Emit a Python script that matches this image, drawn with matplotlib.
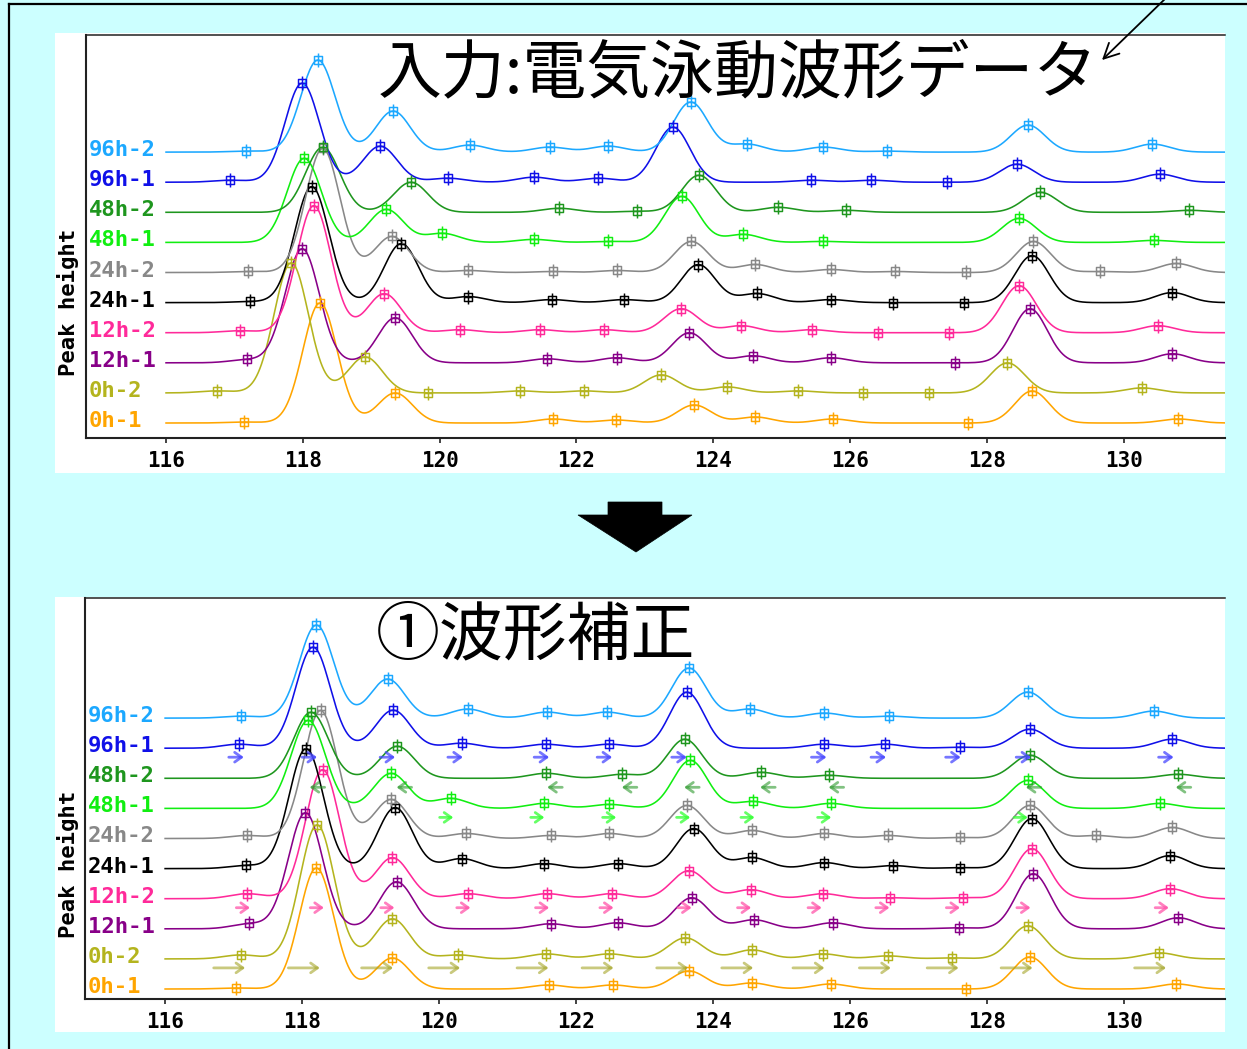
import numpy as np
import matplotlib
matplotlib.use("Agg")
import matplotlib.pyplot as plt
from matplotlib.path import Path
from matplotlib.patches import Rectangle, Polygon, FancyArrowPatch
from matplotlib.lines import Line2D

# ---------------- sample lanes (bottom -> top) ----------------
samples = ["0h-1", "0h-2", "12h-1", "12h-2", "24h-1", "24h-2", "48h-1", "48h-2", "96h-1", "96h-2"]
colors = ["#FFA500", "#B4B41E", "#880088", "#FF2A9A", "#000000",
          "#888888", "#11EE11", "#1E961E", "#1010E8", "#1CA8FF"]

x_ticks = [116, 118, 120, 122, 124, 126, 128, 130]

# ---------------- input waveforms: peak positions / heights ----------------
raw_0h1_x = [117.14, 118.25, 119.35, 121.66, 122.58, 123.72, 124.61, 125.75, 127.73, 128.66, 130.80]
raw_0h1_h = [1, 120, 30, 4, 3, 18, 6, 4, 0, 32, 4]
raw_0h2_x = [116.75, 117.83, 118.91, 119.83, 121.18, 122.11, 123.24, 124.20, 125.24, 126.19, 127.15, 128.30, 130.27]
raw_0h2_h = [2, 130, 36, 0, 2, 2, 18, 6, 2, 0, 0, 30, 5]
raw_12h1_x = [117.18, 117.99, 119.35, 121.57, 122.59, 123.65, 124.58, 125.72, 127.54, 128.63, 130.71]
raw_12h1_h = [3, 114, 45, 4, 5, 30, 7, 5, 0, 54, 9]
raw_12h2_x = [117.08, 118.16, 119.19, 120.30, 121.47, 122.40, 123.53, 124.41, 125.44, 126.41, 127.45, 128.47, 130.50]
raw_12h2_h = [2, 127, 39, 3, 3, 3, 24, 7, 3, 0, 0, 47, 7]
raw_24h1_x = [117.23, 118.13, 119.44, 120.42, 121.64, 122.70, 123.78, 124.64, 125.72, 126.63, 127.67, 128.66, 130.71]
raw_24h1_h = [1, 116, 59, 6, 3, 3, 38, 9, 3, 0, 0, 47, 10]
raw_24h2_x = [117.20, 118.29, 119.30, 120.42, 121.66, 122.59, 123.68, 124.61, 125.72, 126.66, 127.70, 128.68, 129.65, 130.77]
raw_24h2_h = [1, 124, 36, 2, 1, 2, 31, 8, 3, 1, 0, 31, 1, 9]
raw_48h1_x = [118.02, 119.22, 120.04, 121.38, 122.46, 123.54, 124.44, 125.61, 128.47, 130.44]
raw_48h1_h = [84, 33, 9, 3, 1, 46, 8, 1, 24, 2]
raw_48h2_x = [118.29, 119.58, 121.75, 122.89, 123.79, 124.95, 125.94, 128.78, 130.96]
raw_48h2_h = [65, 30, 4, 1, 37, 5, 2, 20, 2]
raw_96h1_x = [116.94, 117.99, 119.13, 120.12, 121.38, 122.32, 123.41, 125.43, 126.31, 127.42, 128.44, 130.53]
raw_96h1_h = [2, 99, 36, 4, 5, 4, 55, 2, 2, 0, 18, 8]
raw_96h2_x = [117.17, 118.22, 119.32, 120.44, 121.61, 122.46, 123.67, 124.49, 125.61, 126.54, 128.60, 130.42]
raw_96h2_h = [1, 92, 41, 7, 5, 6, 50, 8, 5, 1, 27, 8]

# ---------------- corrected waveforms ----------------
cor_0h1_x = [117.04, 118.21, 119.32, 121.60, 122.54, 123.65, 124.57, 125.72, 127.70, 128.63, 130.77]
cor_0h1_h = [1, 121, 31, 4, 4, 18, 6, 5, 0, 32, 5]
cor_0h2_x = [117.11, 118.22, 119.32, 120.28, 121.57, 122.49, 123.60, 124.57, 125.61, 126.56, 127.49, 128.60, 130.52]
cor_0h2_h = [4, 134, 40, 4, 5, 5, 21, 9, 5, 3, 1, 33, 6]
cor_12h1_x = [117.23, 118.05, 119.38, 121.63, 122.61, 123.69, 124.60, 125.75, 127.59, 128.68, 130.80]
cor_12h1_h = [5, 116, 47, 5, 6, 31, 9, 6, 1, 55, 11]
cor_12h2_x = [117.20, 118.30, 119.32, 120.42, 121.58, 122.52, 123.65, 124.55, 125.61, 126.58, 127.65, 128.66, 130.68]
cor_12h2_h = [5, 129, 41, 5, 5, 5, 28, 9, 5, 1, 1, 50, 10]
cor_24h1_x = [117.18, 118.06, 119.36, 120.33, 121.54, 122.61, 123.72, 124.57, 125.63, 126.63, 127.61, 128.66, 130.68]
cor_24h1_h = [3, 120, 61, 10, 5, 5, 40, 11, 6, 3, 1, 50, 13]
cor_24h2_x = [117.20, 118.27, 119.30, 120.40, 121.63, 122.49, 123.62, 124.57, 125.63, 126.56, 127.61, 128.63, 129.60, 130.71]
cor_24h2_h = [3, 128, 39, 5, 3, 5, 33, 8, 5, 3, 1, 33, 3, 11]
cor_48h1_x = [118.09, 119.30, 120.17, 121.54, 122.49, 123.67, 124.58, 125.72, 128.60, 130.53]
cor_48h1_h = [88, 35, 10, 5, 4, 48, 7, 5, 28, 5]
cor_48h2_x = [118.13, 119.39, 121.57, 122.68, 123.59, 124.70, 125.69, 128.63, 130.80]
cor_48h2_h = [66, 32, 5, 4, 39, 6, 3, 23, 4]
cor_96h1_x = [117.08, 118.16, 119.33, 120.33, 121.56, 122.49, 123.62, 125.63, 126.51, 127.61, 128.63, 130.71]
cor_96h1_h = [4, 101, 38, 5, 4, 4, 56, 4, 4, 1, 19, 9]
cor_96h2_x = [117.11, 118.21, 119.25, 120.42, 121.58, 122.45, 123.65, 124.54, 125.63, 126.57, 128.60, 130.44]
cor_96h2_h = [2, 93, 39, 9, 6, 6, 50, 9, 5, 2, 26, 7]

# ---------------- shift directions applied during correction ----------------
shift_96h1_x = [117.04, 118.11, 119.25, 120.24, 121.50, 122.42, 123.51, 125.55, 126.42, 127.51, 128.54, 130.62]
shift_48h2_x = [118.22, 119.49, 121.69, 122.78, 123.69, 124.80, 125.80, 128.68, 130.87]
shift_48h1_x = [120.11, 121.44, 122.49, 123.57, 124.51, 125.63, 128.50]
shift_12h2_x = [117.14, 118.22, 119.25, 120.36, 121.51, 122.45, 123.59, 124.46, 125.49, 126.48, 127.51, 128.54, 130.56]
shift_0h2_x = [116.94, 118.03, 119.10, 120.08, 121.37, 122.32, 123.41, 124.36, 125.40, 126.37, 127.36, 128.44, 130.39]

raw_peaks = [(raw_0h1_x, raw_0h1_h), (raw_0h2_x, raw_0h2_h), (raw_12h1_x, raw_12h1_h),
             (raw_12h2_x, raw_12h2_h), (raw_24h1_x, raw_24h1_h), (raw_24h2_x, raw_24h2_h),
             (raw_48h1_x, raw_48h1_h), (raw_48h2_x, raw_48h2_h), (raw_96h1_x, raw_96h1_h),
             (raw_96h2_x, raw_96h2_h)]
cor_peaks = [(cor_0h1_x, cor_0h1_h), (cor_0h2_x, cor_0h2_h), (cor_12h1_x, cor_12h1_h),
             (cor_12h2_x, cor_12h2_h), (cor_24h1_x, cor_24h1_h), (cor_24h2_x, cor_24h2_h),
             (cor_48h1_x, cor_48h1_h), (cor_48h2_x, cor_48h2_h), (cor_96h1_x, cor_96h1_h),
             (cor_96h2_x, cor_96h2_h)]
# (lane index, positions, direction, colour, alpha, length)
shift_rows = [(8, shift_96h1_x, 1, "#4848FF", 0.75, 0.22),
              (7, shift_48h2_x, -1, "#2E9A2E", 0.6, 0.22),
              (6, shift_48h1_x, 1, "#33FF33", 0.75, 0.20),
              (3, shift_12h2_x, 1, "#FF55AA", 0.75, 0.20),
              (1, shift_0h2_x, 1, "#A5A528", 0.6, 0.46)]

# ---------------- figure geometry (pixels) ----------------
W, H = 1247, 1049
X_MIN, X_MAX = 114.83, 131.48
LANE_GAP = 30.1
SIGMA = 0.25

plt.rcParams["font.family"] = ["DejaVu Sans Mono", "DejaVu Sans"]
plt.rcParams["font.weight"] = "bold"

fig = plt.figure(figsize=(W / 100, H / 100), dpi=100)
fig.patch.set_facecolor("#CCFFFF")


def fx(px):
    return px / W


def fy(py):
    return 1 - py / H


# frame lines of the slide
fig.add_artist(Line2D([fx(9), fx(1247)], [fy(4), fy(4)], color="black", lw=1.6,
                      transform=fig.transFigure))
fig.add_artist(Line2D([fx(9), fx(9)], [fy(4), fy(1049)], color="black", lw=1.6,
                      transform=fig.transFigure))

# white chart backgrounds
for top, bot in [(33, 473), (597, 1032)]:
    fig.add_artist(Rectangle((fx(55), fy(bot)), fx(1225) - fx(55), fy(top) - fy(bot),
                             transform=fig.transFigure, facecolor="white",
                             edgecolor="none", zorder=0.5))

# custom peak marker: box with a centre bar and a vertical stem
mk = Path([(-0.32, -0.27), (0.32, -0.27), (0.32, 0.27), (-0.32, 0.27), (-0.32, -0.27),
           (0, -0.5), (0, 0.5), (-0.32, 0.0), (0.32, 0.0)],
          [Path.MOVETO, Path.LINETO, Path.LINETO, Path.LINETO, Path.CLOSEPOLY,
           Path.MOVETO, Path.LINETO, Path.MOVETO, Path.LINETO])

x_grid = np.linspace(116.0, X_MAX, 2000)


def waveform(xs, pos, hts):
    pos = np.asarray(pos, float)[:, None]
    hts = np.asarray(hts, float)[:, None]
    return (hts * np.exp(-0.5 * ((np.asarray(xs)[None, :] - pos) / SIGMA) ** 2)).sum(axis=0)


def draw_panel(left, top, right, bottom, peaks, base0):
    ax = fig.add_axes([fx(left), fy(bottom), fx(right) - fx(left), fy(top) - fy(bottom)])
    ax.set_zorder(1)
    ax.set_facecolor("white")
    ax.set_xlim(X_MIN, X_MAX)
    ax.set_ylim(0, bottom - top)
    for i, (pos, hts) in enumerate(peaks):
        base = base0 + LANE_GAP * i
        ax.plot(x_grid, base + waveform(x_grid, pos, hts), color=colors[i], lw=1.15, zorder=2)
        ax.plot(pos, base + waveform(pos, pos, hts), ls="none", marker=mk, ms=10,
                mfc="none", mec=colors[i], mew=1.05, zorder=3)
        ax.text(114.875, base + 2, samples[i], color=colors[i], fontsize=16,
                fontweight="bold", ha="left", va="center", zorder=4)
    ax.set_xticks(x_ticks)
    ax.set_xticklabels([str(t) for t in x_ticks])
    ax.set_yticks([])
    ax.tick_params(axis="x", direction="out", length=3.6, width=1.2, pad=6,
                   labelsize=15, color="#222222")
    ax.spines["right"].set_visible(False)
    ax.spines["left"].set_linewidth(1.5)
    ax.spines["bottom"].set_linewidth(1.5)
    ax.spines["top"].set_linewidth(1.1)
    for s in ("left", "bottom", "top"):
        ax.spines[s].set_color("#222222")
    return ax


ax_raw = draw_panel(86, 35, 1225, 438, raw_peaks, 15)
ax_cor = draw_panel(85, 598, 1225, 999, cor_peaks, 10)

# shift arrows in the corrected panel
for lane, xs, direction, col, alpha, length in shift_rows:
    y = 10 + LANE_GAP * lane - 9
    for xc in xs:
        x0, x1 = xc - direction * length / 2, xc + direction * length / 2
        ax_cor.annotate("", xy=(x1, y), xytext=(x0, y),
                        arrowprops=dict(arrowstyle="->,head_length=0.35,head_width=0.25",
                                        color=col, lw=2.0, alpha=alpha,
                                        shrinkA=0, shrinkB=0, mutation_scale=14),
                        zorder=4)

# axis captions
for yc in (302, 864):
    fig.text(fx(68), fy(yc), "Peak height", rotation=90, fontsize=16, fontweight="bold",
             ha="center", va="center")

# headings
cjk = ["Noto Sans CJK JP", "DejaVu Sans"]
fig.text(fx(378), fy(92), "入力:電気泳動波形データ", fontsize=46, family=cjk,
         fontweight="normal", ha="left", va="baseline", zorder=5)
fig.text(fx(376), fy(654), "①波形補正", fontsize=46, family=cjk,
         fontweight="normal", ha="left", va="baseline", zorder=5)

# big downward arrow between the panels
arrow_px = [(608, 502), (662, 502), (662, 515), (692, 515), (636, 552), (578, 515), (608, 515)]
fig.add_artist(Polygon([(fx(a), fy(b)) for a, b in arrow_px], closed=True,
                       transform=fig.transFigure, facecolor="black", edgecolor="black",
                       lw=0.5, zorder=5))

# pointer into the heading
fig.add_artist(FancyArrowPatch((fx(1167), fy(-3)), (fx(1100), fy(62)),
                               transform=fig.transFigure, arrowstyle="->,head_length=0.6,head_width=0.3",
                               mutation_scale=18, color="black", lw=1.3, zorder=6))

fig.savefig("out.png", dpi=100, facecolor=fig.get_facecolor())
